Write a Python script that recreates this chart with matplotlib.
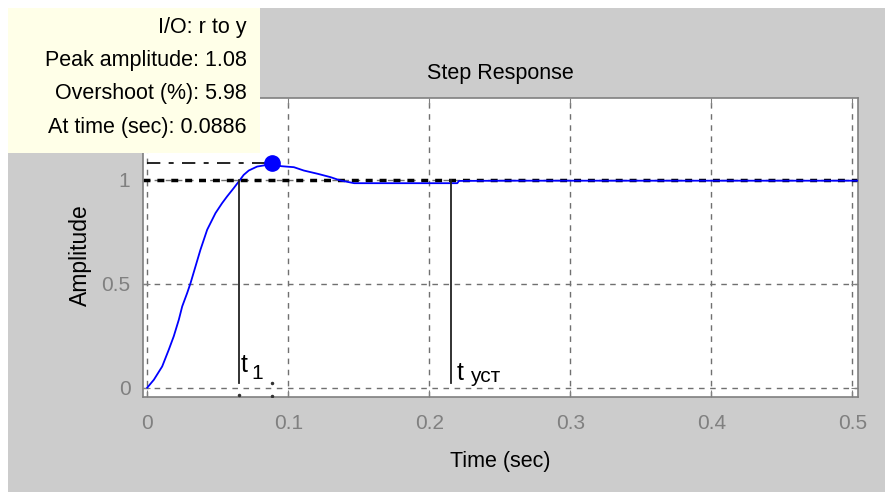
import matplotlib.pyplot as plt
import matplotlib.patches as mpatches

# step response samples (time in sec, amplitude)
t = [0.0, 0.0047, 0.0106, 0.0153, 0.0188, 0.0224, 0.0248, 0.0283, 0.0307,
     0.0342, 0.0377, 0.0425, 0.0484, 0.0531, 0.0566, 0.0613, 0.0649, 0.0684,
     0.0720, 0.0779, 0.0850, 0.0886, 0.0948, 0.104, 0.111, 0.121, 0.130,
     0.137, 0.1467, 0.2199, 0.221, 0.26, 0.35, 0.45, 0.504]
y = [0.0, 0.038, 0.102, 0.183, 0.247, 0.327, 0.391, 0.455, 0.503,
     0.583, 0.663, 0.760, 0.840, 0.888, 0.920, 0.960, 0.992, 1.024,
     1.045, 1.064, 1.072, 1.08, 1.066, 1.061, 1.045, 1.029, 1.013,
     0.997, 0.984, 0.984, 0.995, 0.996, 0.996, 0.996, 0.996]

peak_t = 0.0886
peak_amp = 1.08
overshoot = 5.98
final_val = 1.0
t1 = 0.0649
t_set = 0.2157

xticks = [0, 0.1, 0.2, 0.3, 0.4, 0.5]
xtick_labels = ['0', '0.1', '0.2', '0.3', '0.4', '0.5']
yticks = [0, 0.5, 1]
ytick_labels = ['0', '0.5', '1']

plt.rcParams['font.family'] = ['Liberation Sans', 'DejaVu Sans']

fig = plt.figure(figsize=(8.85, 4.92), dpi=100, facecolor='white')
W, H = 885.0, 492.0
# gray window background
fig.patches.append(mpatches.Rectangle((8 / W, 0), 1 - 8 / W, 1 - 8 / H,
                                      transform=fig.transFigure,
                                      facecolor='#cccccc', edgecolor='none',
                                      zorder=-5))

ax = fig.add_axes([143 / W, 1 - 397 / H, (858 - 143) / W, (397 - 98) / H])
ax.set_xlim(-0.003, 0.504)
ax.set_ylim(-0.045, 1.394)

gray = '#808080'
for gx in xticks:
    ax.axvline(gx, color='#707070', lw=1, dashes=(4, 4), zorder=1)
for gy in yticks:
    ax.axhline(gy, color='#707070', lw=1, dashes=(4, 4), zorder=1)

# steady-state level and peak reference
ax.axhline(final_val, color='black', lw=2.5, dashes=(2, 2), zorder=2)
ax.plot([0, peak_t], [peak_amp, peak_amp], color='black', lw=1.2,
        dashes=(8, 5, 3, 5), zorder=2)

ax.plot(t, y, color='#0000ff', lw=1.3, zorder=3)
ax.plot([peak_t], [peak_amp], 'o', color='#0000ff', ms=11, zorder=4)

# rise and settling time markers
ax.plot([t1, t1], [0.024, final_val], color='#222222', lw=1.3, zorder=3)
ax.plot([t_set, t_set], [0.024, final_val], color='#222222', lw=1.3, zorder=3)
ax.plot([t1, peak_t, peak_t], [-0.035, 0.02, -0.04], 'o', color='#333333',
        ms=1.5, zorder=3)
ax.text(t1 + 0.0015, 0.075, 't', fontsize=18, color='black')
ax.text(t1 + 0.009, 0.04, '1', fontsize=15, color='black')
ax.text(t_set + 0.004, 0.035, 't', fontsize=18, color='black')
ax.text(t_set + 0.0135, 0.025, 'уст', fontsize=15, color='black')

ax.set_xticks(xticks)
ax.set_xticklabels(xtick_labels)
ax.set_yticks(yticks)
ax.set_yticklabels(ytick_labels)
ax.tick_params(direction='in', colors=gray, labelcolor=gray, labelsize=15,
               length=5, top=True, right=True)
ax.tick_params(axis='x', pad=12)
ax.tick_params(axis='y', pad=9)
for s in ax.spines.values():
    s.set_color(gray)
    s.set_linewidth(1.2)

ax.set_title('Step Response', fontsize=15.5, pad=14)
ax.set_xlabel('Time (sec)', fontsize=15.5, labelpad=13)
ax.set_ylabel('Amplitude', fontsize=16.5)
ax.yaxis.set_label_coords(-0.072, 0.475)

# data tip box
fig.patches.append(mpatches.Rectangle((8 / W, 1 - 153 / H), 252 / W, 145 / H,
                                      transform=fig.transFigure,
                                      facecolor='#ffffe8', edgecolor='none',
                                      zorder=5))
tip = ['I/O: r to y',
       'Peak amplitude: %.2f' % peak_amp,
       'Overshoot (%%): %.2f' % overshoot,
       'At time (sec): %.4f' % peak_t]
for i, line in enumerate(tip):
    fig.text(247 / W, 1 - (27 + 33.5 * i) / H, line, ha='right', va='center',
             fontsize=15.5, color='black', zorder=6)

fig.savefig('out.png', dpi=100, facecolor=fig.get_facecolor())
